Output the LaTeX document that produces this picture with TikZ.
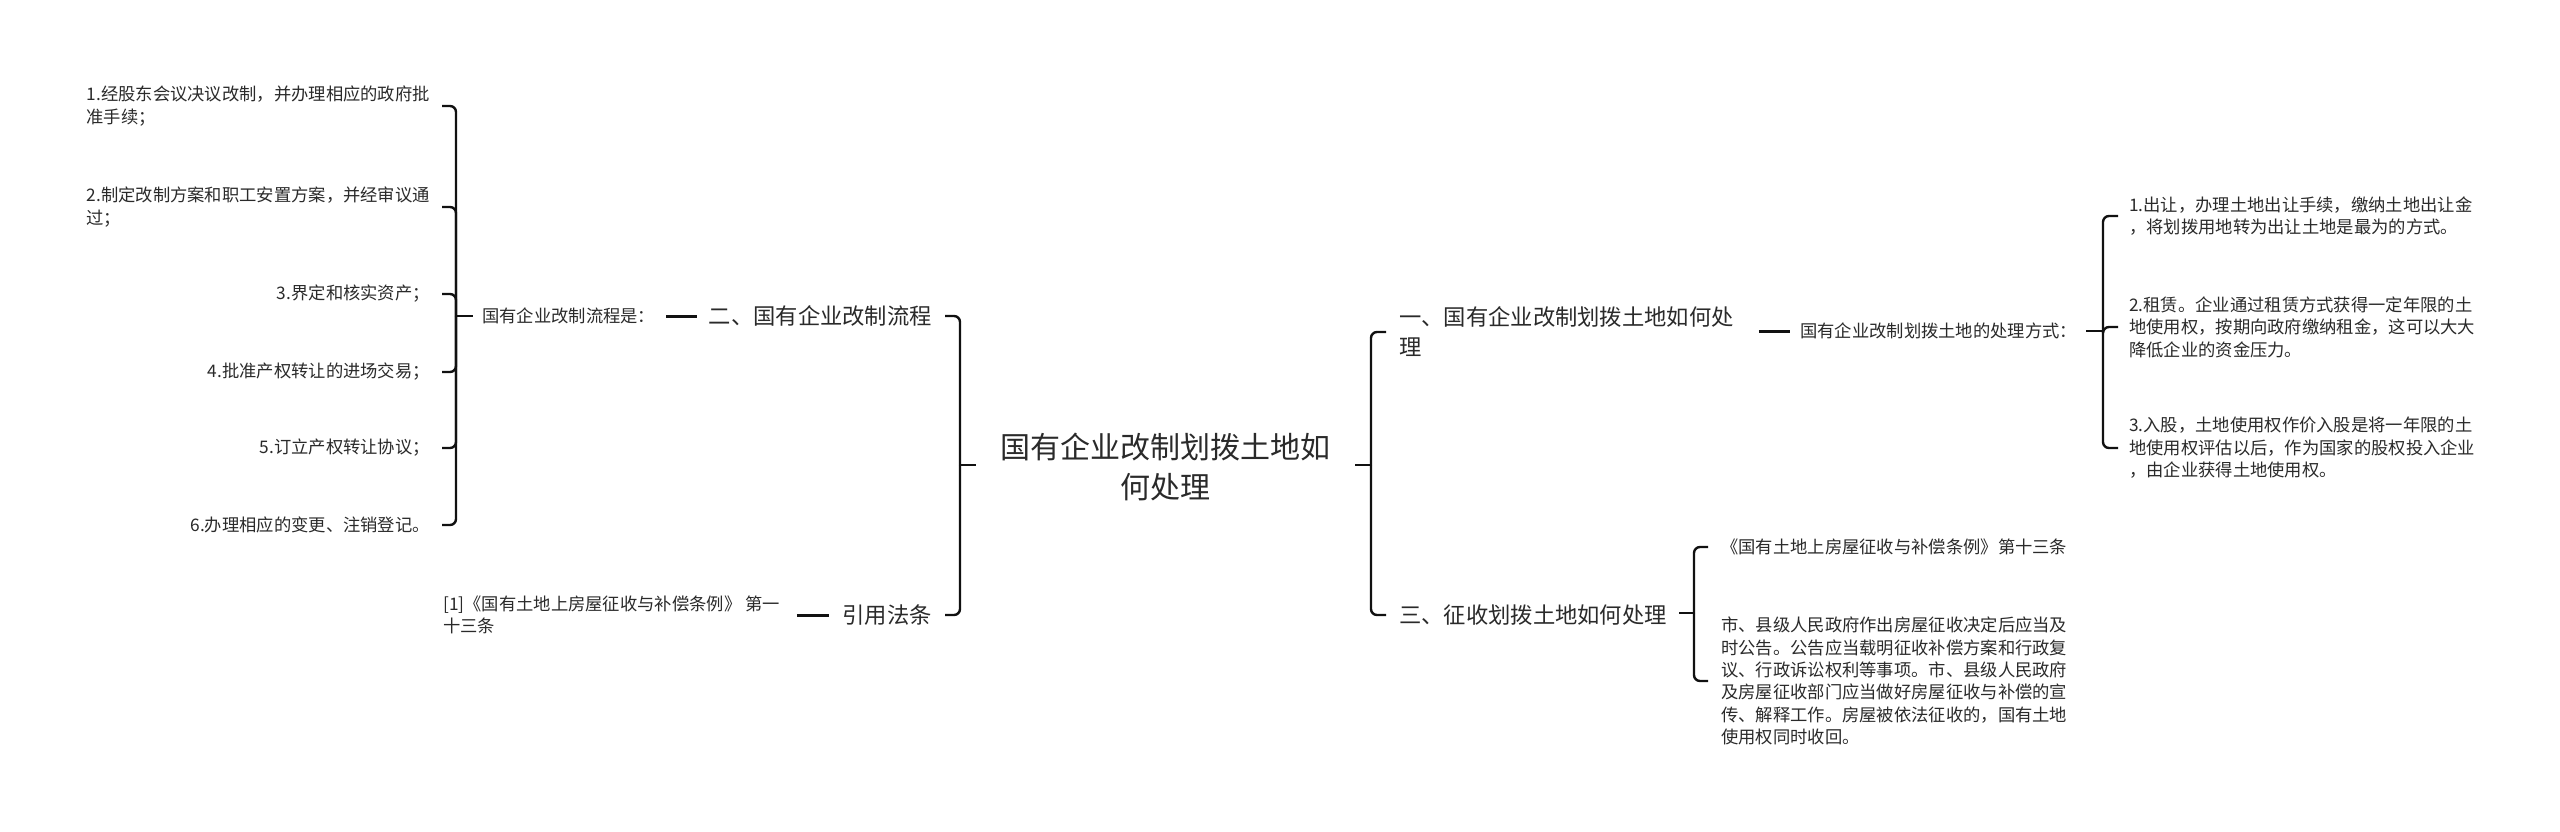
\documentclass[tikz,border=0pt]{standalone}
\usepackage{fontspec}
\setmainfont{Noto Sans CJK SC}
\definecolor{tc}{HTML}{2A2A2A}
\definecolor{lc}{HTML}{111111}
\begin{document}
\begin{tikzpicture}[x=1pt,y=-1pt,
  txt/.style={text=tc, inner sep=0pt},
  small/.style={txt, font=\fontsize{17.3}{22.4}\selectfont, align=left},
  mid/.style={txt, font=\fontsize{22.3}{30}\selectfont, align=left},
  big/.style={txt, font=\fontsize{30}{40}\selectfont, align=center},
  conn/.style={draw=lc, line width=2.4pt, rounded corners=6pt},
  link/.style={draw=lc, line width=3pt}]
\useasboundingbox[fill=white] (0,0) rectangle (2560,831);

% root
\node[big] (R) at (1165,467) {国有企业改制划拨土地如\\何处理};

% left branch
\node[mid, anchor=east] (B2) at (932,316) {二、国有企业改制流程};
\node[mid, anchor=east] (B3) at (932,615) {引用法条};
\node[small, anchor=west] (P) at (482,316) {国有企业改制流程是：};
\node[small, anchor=east] (a1) at (430,106) {1.经股东会议决议改制，并办理相应的政府批\\准手续；};
\node[small, anchor=east] (a2) at (430,207) {2.制定改制方案和职工安置方案，并经审议通\\过；};
\node[small, anchor=east] (a3) at (430,294) {3.界定和核实资产；};
\node[small, anchor=east] (a4) at (430,372) {4.批准产权转让的进场交易；};
\node[small, anchor=east] (a5) at (430,448) {5.订立产权转让协议；};
\node[small, anchor=east] (a6) at (430,525) {6.办理相应的变更、注销登记。};
\node[small, anchor=west] (C3) at (443,615) {[1]《国有土地上房屋征收与补偿条例》 第一\\十三条};

% right branch
\node[mid, anchor=west] (D1) at (1399,332) {一、国有企业改制划拨土地如何处\\理};
\node[mid, anchor=west] (D3) at (1399,615) {三、征收划拨土地如何处理};
\node[small, anchor=west] (E1) at (1800,331) {国有企业改制划拨土地的处理方式：};
\node[small, anchor=west] (F1) at (2129,216) {1.出让，办理土地出让手续，缴纳土地出让金\\，将划拨用地转为出让土地是最为的方式。};
\node[small, anchor=west] (F2) at (2129,327) {2.租赁。企业通过租赁方式获得一定年限的土\\地使用权，按期向政府缴纳租金，这可以大大\\降低企业的资金压力。};
\node[small, anchor=west] (F3) at (2129,448) {3.入股，土地使用权作价入股是将一年限的土\\地使用权评估以后，作为国家的股权投入企业\\，由企业获得土地使用权。};
\node[small, anchor=west] (G1) at (1721,547) {《国有土地上房屋征收与补偿条例》第十三条};
\node[small, anchor=west] (G2) at (1721,681) {市、县级人民政府作出房屋征收决定后应当及\\时公告。公告应当载明征收补偿方案和行政复\\议、行政诉讼权利等事项。市、县级人民政府\\及房屋征收部门应当做好房屋征收与补偿的宣\\传、解释工作。房屋被依法征收的，国有土地\\使用权同时收回。};

% junctions
\coordinate (jRL) at (960,465);
\coordinate (jRR) at (1371,465);
\coordinate (jP) at (456,316);
\coordinate (jE) at (2103,331);
\coordinate (jD) at (1694,613);

% root brackets
\draw[conn] ([xshift=-24pt]R.west |- jRL) -- (jRL);
\foreach \c in {B2,B3} \draw[conn] (jRL) |- ([xshift=13pt]\c.east);
\draw[conn] ([xshift=25pt]R.east |- jRR) -- (jRR);
\foreach \c in {D1,D3} \draw[conn] (jRR) |- ([xshift=-13pt]\c.west);

% left sub-branches
\draw[link] ([xshift=11pt]P.east) -- ([xshift=-12pt]B2.west);
\draw[conn] (jP) -- ([xshift=-9pt]P.west);
\foreach \c in {a1,a2,a3,a4,a5,a6} \draw[conn] (jP) |- ([xshift=12pt]\c.east);
\draw[link] ([xshift=17pt]C3.east) -- ([xshift=-13pt]B3.west);

% right sub-branches
\draw[link] ([xshift=25pt]D1.east |- E1.west) -- ([xshift=-10pt]E1.west);
\draw[conn] ([xshift=9pt]E1.east) -- (jE);
\foreach \c in {F1,F2,F3} \draw[conn] (jE) |- ([xshift=-11pt]\c.west);
\draw[conn] ([xshift=12pt]D3.east |- jD) -- (jD);
\foreach \c in {G1,G2} \draw[conn] (jD) |- ([xshift=-13pt]\c.west);
\end{tikzpicture}
\end{document}
